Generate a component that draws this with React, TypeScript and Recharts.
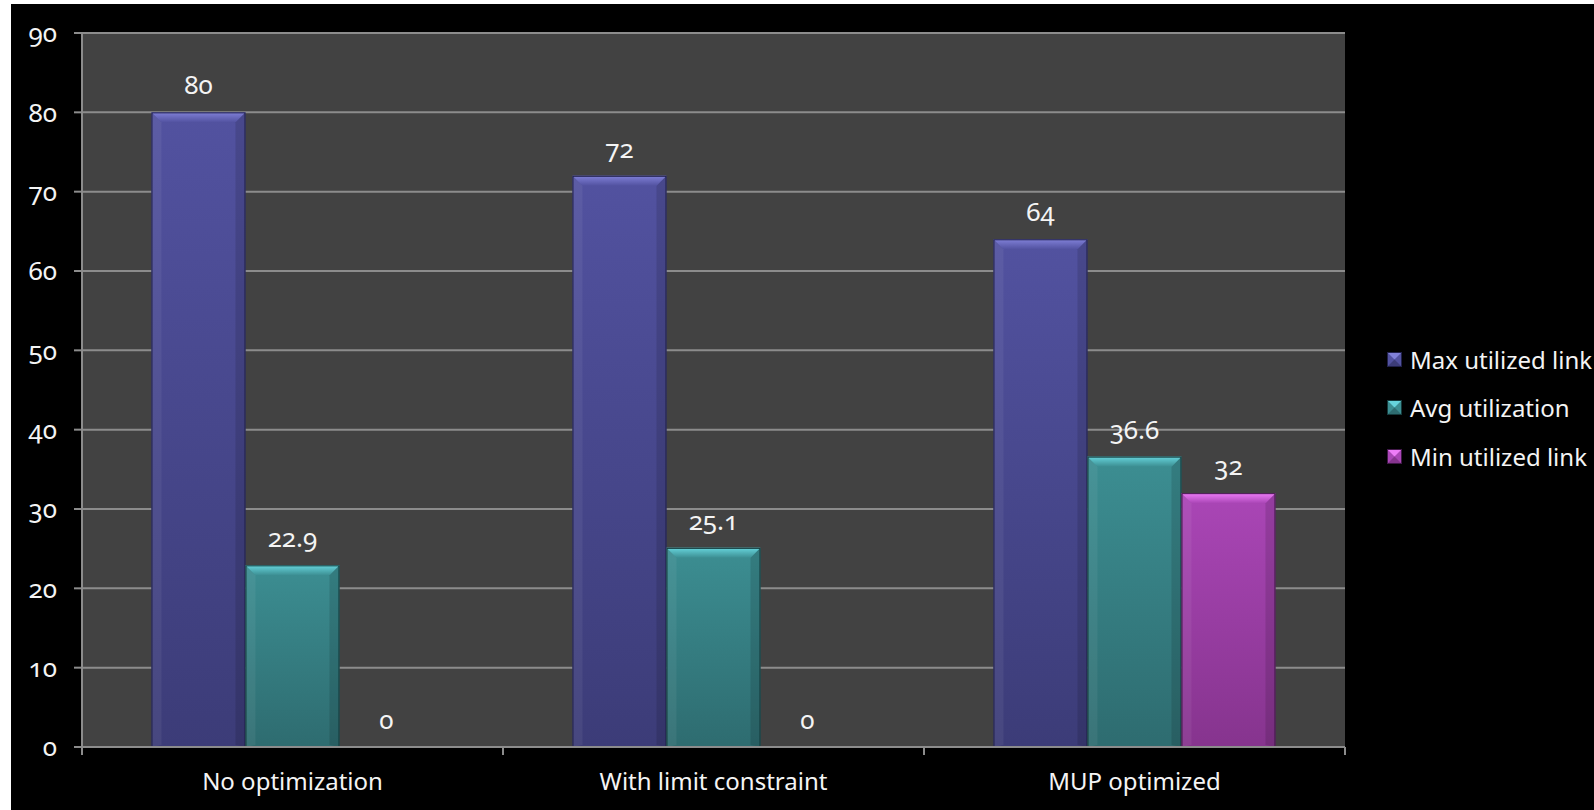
import React from "react";
import { BarChart, Bar, XAxis, YAxis, CartesianGrid, LabelList } from "recharts";

const categories = ["No optimization", "With limit constraint", "MUP optimized"];
const maxUtilized = [80, 72, 64];
const avgUtilization = [22.9, 25.1, 36.6];
const minUtilized = [0, 0, 32];
const yTicks = [0, 10, 20, 30, 40, 50, 60, 70, 80, 90];

const seriesInfo = [
  { key: "max", name: "Max utilized link", top: "#5252a0", bottom: "#3c3c78", bevel: "#8080d8", edge: "#20204a" },
  { key: "avg", name: "Avg utilization", top: "#3c8e92", bottom: "#2e6c70", bevel: "#66d4dc", edge: "#143a3c" },
  { key: "min", name: "Min utilized link", top: "#aa46b6", bottom: "#86348e", bevel: "#ee7cf8", edge: "#401848" },
];

const data = categories.map((c, i) => ({
  name: c,
  max: maxUtilized[i],
  avg: avgUtilization[i],
  min: minUtilized[i],
}));

const FONT = "'Noto Sans', 'Open Sans', sans-serif";
const TEXT = "#f4f4f4";
const GRID = "#8c8c8c";

const CHART_W = 1583;
const CHART_H = 806;
const MARGIN = { top: 29, right: 249, left: 0, bottom: 13 };
const Y_W = 71;
const PLOT_W = CHART_W - MARGIN.right - MARGIN.left - Y_W;
const BAND = PLOT_W / categories.length;
const X_TICK_MARGIN = 26;

const makeShape = (idx: number) => (props: any) => {
  const { x, y, width, height } = props;
  if (!height || height <= 0) return <g />;
  const s = seriesInfo[idx];
  const b = Math.min(10, height / 2, width / 4);
  return (
    <g>
      <rect x={x} y={y} width={width} height={height} fill={`url(#grad-${s.key})`} />
      <polygon
        points={`${x},${y} ${x + b},${y + b} ${x + b},${y + height - 2} ${x},${y + height}`}
        fill="#ffffff"
        fillOpacity={0.06}
      />
      <polygon
        points={`${x + width},${y} ${x + width - b},${y + b} ${x + width - b},${y + height - 2} ${x + width},${y + height}`}
        fill="#000000"
        fillOpacity={0.12}
      />
      <polygon
        points={`${x},${y} ${x + width},${y} ${x + width - b},${y + b} ${x + b},${y + b}`}
        fill={`url(#bevel-${s.key})`}
      />
      <rect x={x + 0.5} y={y + 0.5} width={width - 1} height={height - 1} fill="none" stroke={s.edge} strokeWidth={1} />
    </g>
  );
};

const CategoryTick = (props: any) => {
  const { x, y, payload, index } = props;
  const axisY = y - X_TICK_MARGIN;
  const left = x - BAND / 2;
  const right = x + BAND / 2;
  return (
    <g>
      <line x1={left} y1={axisY} x2={left} y2={axisY + 8} stroke={GRID} strokeWidth={2} />
      {index === categories.length - 1 && (
        <line x1={right} y1={axisY} x2={right} y2={axisY + 8} stroke={GRID} strokeWidth={2} />
      )}
      <text x={x} y={y} dy="0.71em" textAnchor="middle" fill={TEXT} fontSize={24} fontFamily={FONT}>
        {payload.value}
      </text>
    </g>
  );
};

const LegendIcon = ({ idx }: { idx: number }) => {
  const s = seriesInfo[idx];
  return (
    <svg width={15} height={15} style={{ display: "block" }}>
      <rect x={0} y={0} width={15} height={15} fill={s.top} />
      <polygon points="0,0 15,0 7.5,7.5" fill={s.bevel} />
      <polygon points="0,15 15,15 7.5,7.5" fill={s.bottom} />
      <rect x={0.5} y={0.5} width={14} height={14} fill="none" stroke={s.edge} strokeWidth={1} />
    </svg>
  );
};

export default function App() {
  return (
    <div
      style={{
        position: "fixed",
        left: 11,
        top: 4,
        width: CHART_W,
        height: CHART_H,
        background: "#000000",
        fontFamily: FONT,
      }}
    >
      <BarChart
        width={CHART_W}
        height={CHART_H}
        data={data}
        margin={MARGIN}
        barCategoryGap="16.5%"
        barGap={0}
      >
        <defs>
          {seriesInfo.map((s) => (
            <linearGradient key={s.key} id={`grad-${s.key}`} x1="0" y1="0" x2="0" y2="1">
              <stop offset="0%" stopColor={s.top} />
              <stop offset="100%" stopColor={s.bottom} />
            </linearGradient>
          ))}
          {seriesInfo.map((s) => (
            <linearGradient key={s.key} id={`bevel-${s.key}`} x1="0" y1="0" x2="0" y2="1">
              <stop offset="0%" stopColor={s.bevel} />
              <stop offset="100%" stopColor={s.top} />
            </linearGradient>
          ))}
        </defs>
        <CartesianGrid vertical={false} stroke={GRID} strokeWidth={2} fill="#424242" fillOpacity={1} />
        <XAxis
          dataKey="name"
          type="category"
          height={50}
          axisLine={{ stroke: GRID, strokeWidth: 2 }}
          tickLine={false}
          tickSize={0}
          tickMargin={X_TICK_MARGIN}
          tick={<CategoryTick />}
          interval={0}
        />
        <YAxis
          width={Y_W}
          domain={[0, 90]}
          ticks={yTicks}
          interval={0}
          axisLine={{ stroke: GRID, strokeWidth: 2 }}
          tickLine={{ stroke: GRID, strokeWidth: 2 }}
          tickSize={8}
          tickMargin={17}
          tick={{ fill: TEXT, fontSize: 26, fontFamily: FONT, style: { fontVariantNumeric: "oldstyle-nums" } }}
        />
        {seriesInfo.map((s, i) => (
          <Bar
            key={s.key}
            dataKey={s.key}
            name={s.name}
            fill={s.top}
            shape={makeShape(i)}
            isAnimationActive={false}
          >
            <LabelList
              dataKey={s.key}
              position="top"
              offset={18}
              fill={TEXT}
              fontSize={26}
              fontFamily={FONT}
              style={{ fontVariantNumeric: "oldstyle-nums" }}
            />
          </Bar>
        ))}
      </BarChart>
      {seriesInfo.map((s, i) => (
        <div
          key={s.key}
          style={{
            position: "absolute",
            left: 1376,
            top: 355 + i * 48.5 - 17,
            height: 34,
            display: "flex",
            alignItems: "center",
            color: TEXT,
            fontSize: 24,
            whiteSpace: "nowrap",
          }}
        >
          <LegendIcon idx={i} />
          <span style={{ marginLeft: 8 }}>{s.name}</span>
        </div>
      ))}
    </div>
  );
}
